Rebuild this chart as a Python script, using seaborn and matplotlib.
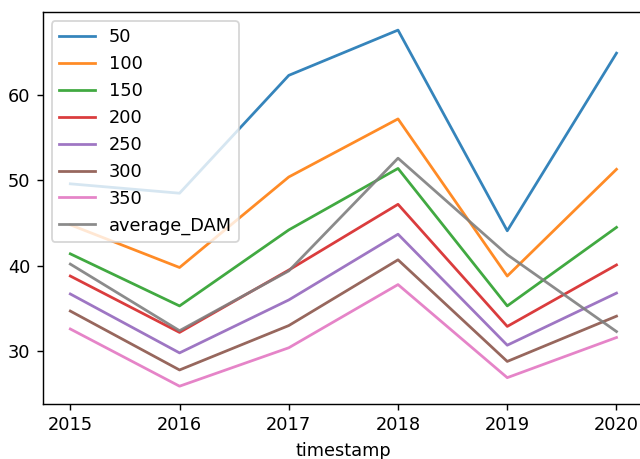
import matplotlib
matplotlib.use("Agg")
import matplotlib.pyplot as plt
import seaborn as sns
import pandas as pd

# Yearly values per series
years = [2015, 2016, 2017, 2018, 2019, 2020]
s50 = [49.6, 48.5, 62.3, 67.6, 44.1, 64.9]
s100 = [44.8, 39.8, 50.4, 57.2, 38.8, 51.3]
s150 = [41.4, 35.3, 44.2, 51.4, 35.3, 44.5]
s200 = [38.8, 32.2, 39.5, 47.2, 32.9, 40.1]
s250 = [36.7, 29.8, 36.0, 43.7, 30.7, 36.8]
s300 = [34.7, 27.8, 33.0, 40.7, 28.8, 34.1]
s350 = [32.6, 25.9, 30.4, 37.8, 26.9, 31.6]
average_dam = [40.2, 32.4, 39.4, 52.6, 41.3, 32.3]

series_names = ["50", "100", "150", "200", "250", "300", "350", "average_DAM"]
series_values = [s50, s100, s150, s200, s250, s300, s350, average_dam]

df = pd.DataFrame({name: vals for name, vals in zip(series_names, series_values)},
                  index=pd.Index(years, name="timestamp"))

dpi = 128
fig = plt.figure(figsize=(5.0, 459 / dpi), dpi=dpi)
# the axes run slightly past the right edge of the canvas
ax = fig.add_axes([43 / 640, 55 / 459, 600.8 / 640, 391.7 / 459])

palette = sns.color_palette("tab10", len(series_names))
for name, color in zip(series_names, palette):
    sns.lineplot(x=df.index, y=df[name], ax=ax, color=color, label=name,
                 linewidth=1.55, alpha=0.9)

ax.set_xticks(years)
ax.set_xticklabels([str(y) for y in years])
ax.set_xlabel("timestamp")
ax.set_ylabel("")
ax.spines["right"].set_visible(False)
ax.legend(loc="upper left")

fig.savefig("out.png", dpi=dpi)
